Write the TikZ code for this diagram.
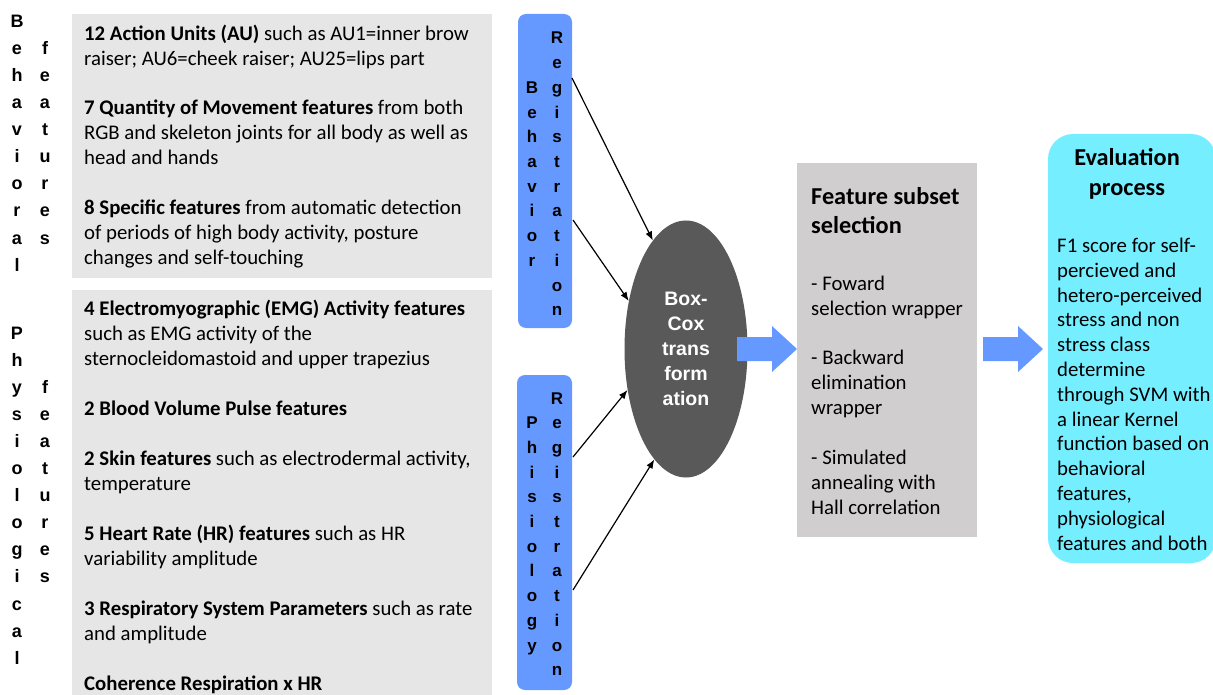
\documentclass[tikz,border=0pt]{standalone}
\usepackage{fontspec}
\setmainfont{Carlito}
\newfontfamily\arialfont{Liberation Sans}
\usepackage{tikz}
\usetikzlibrary{positioning,shapes.geometric,arrows.meta}
\definecolor{featureGrey}{RGB}{231,230,230}
\definecolor{selectionGrey}{RGB}{208,206,206}
\definecolor{registrationBlue}{RGB}{102,153,255}
\definecolor{boxCoxGrey}{RGB}{89,89,89}
\definecolor{evaluationCyan}{RGB}{117,239,255}
\tikzstyle{diagram} = [x = 1pt, y = -1pt]
\tikzstyle{featureBox} = [fill=featureGrey]
\tikzstyle{selectionBox} = [fill=selectionGrey]
\tikzstyle{evaluationBox} = [fill=evaluationCyan, rounded corners = 25pt]
\tikzstyle{registrationBox} = [fill=registrationBlue, rounded corners = 8pt, inner sep = 0]
\tikzstyle{featureText} = [anchor=base west, inner sep=0, align=left, font=\fontsize{20.8}{25}\selectfont]
\tikzstyle{titleText} = [inner sep=0, font=\bfseries\fontsize{24.3}{29}\selectfont]
\tikzstyle{labelLetter} = [anchor=base, inner sep=0, font=\arialfont\bfseries\fontsize{18}{20}\selectfont]
\tikzstyle{regLetter} = [anchor=base, inner sep=0, font=\arialfont\bfseries\fontsize{17}{20}\selectfont]
\tikzstyle{boxCoxEllipse} = [ellipse, fill=boxCoxGrey, minimum width=123, minimum height=257, inner sep=0, text=white, align=center, font=\arialfont\bfseries\fontsize{19.5}{25}\selectfont]
\tikzstyle{blockArrowStyle} = [fill=registrationBlue]
\tikzstyle{connector} = [-{Latex[length=9pt, width=7pt]}, line width=1.2pt]
\newcommand{\letterColumn}[6]{
  \foreach \letter [count=\i] in {#6} {
    \node [#5] (#1\i) at (#2, #3 + #4 * \i - #4) {\letter};
  }
}
\newcommand{\blockArrow}[2]{\fill [blockArrowStyle] (#1, #2 - 12) -- ++(35, 0) -- ++(0, -11) -- ++(25, 23) -- ++(-25, 23) -- ++(0, -11) -- ++(-35, 0) -- cycle;}

\begin{document}
\begin{tikzpicture}[diagram]
  \useasboundingbox (0, 0) rectangle (1213, 695);

  \fill [featureBox] (72, 14) rectangle (492, 278);
  \fill [featureBox] (72, 290) rectangle (492, 700);
  \fill [selectionBox] (797, 163) rectangle (977, 537);
  \fill [evaluationBox] (1048, 134) rectangle (1216, 563);

  \letterColumn{behav}{17}{28}{27}{labelLetter}{B,e,h,a,v,i,o,r,a,l}
  \letterColumn{behavFeat}{45}{55}{27}{labelLetter}{f,e,a,t,u,r,e,s}
  \letterColumn{physio}{17}{339}{27.1}{labelLetter}{P,h,y,s,i,o,l,o,g,i,c,a,l}
  \letterColumn{physioFeat}{45}{393.2}{27.1}{labelLetter}{f,e,a,t,u,r,e,s}

  \node [featureText] (au) at (84, 66) {\textbf{12 Action Units (AU)} such as AU1=inner brow\\raiser; AU6=cheek raiser; AU25=lips part};
  \node [featureText] (movement) at (84, 165) {\textbf{7 Quantity of Movement features} from both\\RGB and skeleton joints for all body as well as\\head and hands};
  \node [featureText] (specific) at (84, 265) {\textbf{8 Specific features} from automatic detection\\of periods of high body activity, posture\\changes and self-touching};
  \node [featureText] (emg) at (84, 365) {\textbf{4 Electromyographic (EMG) Activity features}\\such as EMG activity of the\\sternocleidomastoid and upper trapezius};
  \node [featureText] (bvp) at (84, 415) {\textbf{2 Blood Volume Pulse features}};
  \node [featureText] (skin) at (84, 490) {\textbf{2 Skin features} such as electrodermal activity,\\temperature};
  \node [featureText] (heart) at (84, 565) {\textbf{5 Heart Rate (HR) features} such as HR\\variability amplitude};
  \node [featureText] (resp) at (84, 640) {\textbf{3 Respiratory System Parameters} such as rate\\and amplitude};
  \node [featureText] (coherence) at (84, 690) {\textbf{Coherence Respiration x HR}};

  \node [registrationBox, minimum width=54, minimum height=314] (behReg) at (545, 171) {};
  \node [registrationBox, minimum width=55, minimum height=315] (phyReg) at (544.5, 532.5) {};
  \letterColumn{behReg}{557}{44}{24.7}{regLetter}{R,e,g,i,s,t,r,a,t,i,o,n}
  \letterColumn{behName}{532}{93.4}{24.7}{regLetter}{B,e,h,a,v,i,o,r}
  \letterColumn{phyReg}{557}{404}{24.7}{regLetter}{R,e,g,i,s,t,r,a,t,i,o,n}
  \letterColumn{phyName}{532}{428.7}{24.7}{regLetter}{P,h,i,s,i,o,l,o,g,y}

  \node [boxCoxEllipse] (boxcox) at (686, 349) {Box-\\Cox\\trans\\form\\ation};

  \coordinate (behOutA) at (572, 78);
  \coordinate (behOutB) at (573, 220);
  \coordinate (phyOutA) at (573, 457);
  \coordinate (phyOutB) at (573, 590);
  \draw [connector] (behOutA) -- (boxcox.107);
  \draw [connector] (behOutB) -- (boxcox.140);
  \draw [connector] (phyOutA) -- (boxcox.215);
  \draw [connector] (phyOutB) -- (boxcox.254);

  \blockArrow{737}{349}
  \blockArrow{983}{349}

  \node [titleText, anchor=base west, align=left] (selectTitle) at (811, 234) {Feature subset\\selection};
  \node [featureText] (forward) at (811, 315) {- Foward\\selection wrapper};
  \node [featureText] (backward) at (811, 414) {- Backward\\elimination\\wrapper};
  \node [featureText] (annealing) at (811, 514) {- Simulated\\annealing with\\Hall correlation};

  \node [titleText, anchor=base, align=center, font=\bfseries\fontsize{24.3}{30}\selectfont] (evalTitle) at (1127, 196) {Evaluation\\process};
  \node [featureText, font=\fontsize{20.8}{24.8}\selectfont] (evalText) at (1057, 550) {F1 score for self-\\percieved and\\hetero-perceived\\stress and non\\stress class\\determine\\through SVM with\\a linear Kernel\\function based on\\behavioral\\features,\\physiological\\features and both};
\end{tikzpicture}
\end{document}
